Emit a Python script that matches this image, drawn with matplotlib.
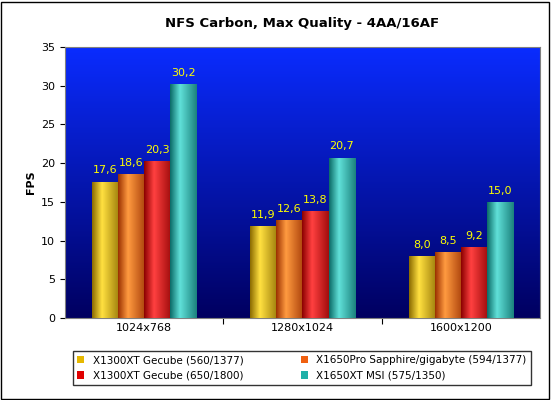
import numpy as np
import matplotlib
matplotlib.use("Agg")
import matplotlib.pyplot as plt
from matplotlib.colors import LinearSegmentedColormap
from matplotlib.patches import Rectangle

categories = ["1024x768", "1280x1024", "1600x1200"]
series = ["X1300XT Gecube (560/1377)", "X1650Pro Sapphire/gigabyte (594/1377)",
          "X1300XT Gecube (650/1800)", "X1650XT MSI (575/1350)"]
values = [[17.6, 11.9, 8.0], [18.6, 12.6, 8.5], [20.3, 13.8, 9.2], [30.2, 20.7, 15.0]]
labels = [["17,6", "11,9", "8,0"], ["18,6", "12,6", "8,5"], ["20,3", "13,8", "9,2"], ["30,2", "20,7", "15,0"]]
base_colors = [("#8a6a00", "#ffe040"), ("#9a3000", "#ff9a40"), ("#8a0000", "#ff4040"), ("#0a6a66", "#60e0d8")]
solid = ["#e6b800", "#f06010", "#e00000", "#20b0a8"]

fig = plt.figure(figsize=(5.51, 4.0), dpi=100)
fig.patch.set_facecolor("white")
fig.add_artist(Rectangle((0.002, 0.003), 0.995, 0.993, transform=fig.transFigure, fill=False, ec="black", lw=1))
ax = fig.add_axes([0.118, 0.205, 0.862, 0.678])
ax.set_xlim(0, 3)
ax.set_ylim(0, 35)
grad = np.linspace(1, 0, 256).reshape(-1, 1)
bg = LinearSegmentedColormap.from_list("bg", ["#000060", "#0a2cff"])
ax.imshow(grad, cmap=bg, extent=[0, 3, 0, 35], aspect="auto", zorder=0, origin="upper")
for s in ax.spines.values():
    s.set_color("#808080")

w = 0.165
x0 = np.arange(3) + 0.5
hgrad = np.concatenate([np.linspace(0, 1, 60), np.linspace(1, 0.2, 100)]).reshape(1, -1)
handles = []
for i in range(4):
    xs = x0 + (i - 1.5) * w
    bars = ax.bar(xs, values[i], width=w, color=solid[i], zorder=2, ec="none", label=series[i])
    handles.append(bars)
    cm = LinearSegmentedColormap.from_list("c%d" % i, list(base_colors[i]))
    for b, v, lab in zip(bars, values[i], labels[i]):
        im = ax.imshow(hgrad, cmap=cm, extent=[b.get_x(), b.get_x() + w, 0, v], aspect="auto", zorder=3)
        im.set_clip_path(b)
        ax.text(b.get_x() + w / 2, v + 0.8, lab, ha="center", va="bottom", color="#ffff00", fontsize=8, zorder=4)

ax.set_xticks([1, 2])
ax.set_xticklabels([])
ax.set_xticks(x0, minor=True)
ax.set_xticklabels(categories, minor=True, fontsize=8)
ax.tick_params(axis="x", which="minor", length=0)
ax.tick_params(axis="x", which="major", length=4)
ax.set_yticks(range(0, 36, 5))
ax.tick_params(axis="y", labelsize=8)
ax.set_ylabel("FPS", fontsize=8, fontweight="bold")
ax.set_title("NFS Carbon, Max Quality - 4AA/16AF", fontsize=9.5, fontweight="bold", pad=14)

order = [0, 2, 1, 3]
leg = fig.legend([handles[k] for k in order], [series[k] for k in order], loc="lower center",
                 bbox_to_anchor=(0.548, 0.025), ncol=2,
                 fontsize=7.5, frameon=True, fancybox=False, edgecolor="black",
                 handlelength=0.7, handleheight=0.7, columnspacing=5.5, borderpad=0.4)
fig.savefig("out.png", dpi=100)
